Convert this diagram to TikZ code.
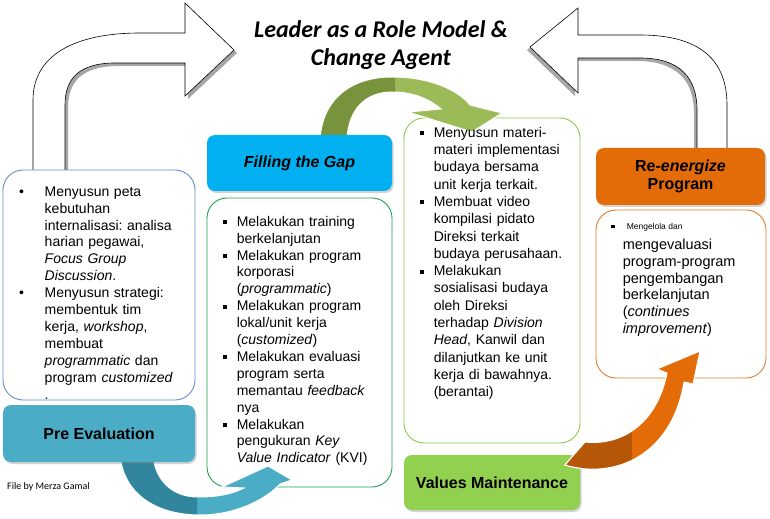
\documentclass[tikz,border=0pt]{standalone}
\usepackage{fontspec}
\setmainfont{Liberation Sans}
\newfontfamily\calfont{Carlito}
\usetikzlibrary{calc,shadows}
\frenchspacing
\definecolor{preblue}{RGB}{75,172,198}
\definecolor{preline}{RGB}{100,140,200}
\definecolor{gapcyan}{RGB}{0,176,240}
\definecolor{gapline}{RGB}{30,160,80}
\definecolor{valgreen}{RGB}{146,208,80}
\definecolor{valline}{RGB}{140,200,80}
\definecolor{renorange}{RGB}{227,108,9}
\definecolor{renline}{RGB}{225,125,45}
\definecolor{dkgreen}{RGB}{119,147,60}
\definecolor{ltgreen}{RGB}{155,187,89}
\definecolor{dkblue}{RGB}{49,133,156}
\definecolor{dkorange}{RGB}{182,87,8}
\tikzset{
  txtbox/.style   = {draw, fill=white, rounded corners=20bp, line width=0.9bp,
                     inner sep=0pt},
  labbox/.style   = {rounded corners=8bp, inner sep=0pt,
                     font=\fontsize{16bp}{18bp}\selectfont\bfseries,
                     drop shadow={opacity=0.35, shadow xshift=1.5bp, shadow yshift=-2bp}},
  bodytxt/.style  = {anchor=north west, inner sep=0pt, text width=175bp, align=left,
                     font=\fontsize{14bp}{16.9bp}\selectfont},
  titletxt/.style = {anchor=north, inner sep=0pt, align=center,
                     font=\calfont\fontsize{24bp}{28bp}\selectfont\bfseries\itshape},
  bigarrow/.style = {fill=white, draw=black, line width=0.6bp},
  arrshade/.style = {fill=black!35},
  flowarr/.style  = {draw=white, line width=1bp},
}
\newcommand{\dotitem}{\leavevmode\llap{\makebox[25.5bp][l]{\textbullet}}}
\newcommand{\sqitem}{\leavevmode\llap{\makebox[14bp][l]{\rule[2bp]{4bp}{4bp}}}}
\def\lftarrow{(33,172) -- (33,100) .. controls (33,55) and (75,33) .. (140,33)
  -- (185,33) -- (185,3) -- (234,50) -- (185,96) -- (185,63) -- (115,63)
  .. controls (80,63) and (65,78) .. (65,105) -- (65,172) -- cycle}
\def\rgtarrow{(530,47) -- (578,8) -- (578,35) -- (640,35)
  .. controls (700,35) and (727,60) .. (727,105) -- (727,150) -- (697,150)
  -- (697,110) .. controls (697,78) and (680,58) .. (640,58) -- (578,58)
  -- (578,93) -- cycle}
\def\grnarrow{(320,140) .. controls (322,100) and (350,77) .. (392,77)
  .. controls (430,77) and (458,90) .. (470,105) -- (502,113) -- (472,132)
  -- (408,112) -- (441,109) .. controls (428,98) and (412,92) .. (392,92)
  .. controls (365,92) and (348,110) .. (347,140) -- cycle}
\def\bluarrow{(120,455) .. controls (124,497) and (160,515) .. (200,515)
  .. controls (235,515) and (265,500) .. (280,484) -- (292,480) -- (268,466)
  -- (222,487) -- (244,488) .. controls (230,495) and (215,497) .. (198,497)
  .. controls (172,497) and (155,480) .. (153,455) -- cycle}
\def\orgarrow{(565,465) .. controls (615,480) and (672,455) .. (684,382)
  -- (693,384) -- (700,351) -- (657,369) -- (667,373)
  .. controls (657,425) and (620,446) .. (585,442) -- cycle}

\begin{document}
\begin{tikzpicture}[x=1bp, y=-1bp]
  \useasboundingbox[fill=white] (0,0) rectangle (770,519);

  % big white arrows to the title
  \fill[arrshade, shift={(3,3)}] \lftarrow;
  \draw[bigarrow] \lftarrow;
  \fill[arrshade, shift={(-3,3)}] \rgtarrow;
  \draw[bigarrow] \rgtarrow;

  \node[titletxt] (title) at (381,17.4) {\strut Leader as a Role Model \&\\ Change Agent};

  % content boxes
  \node[txtbox, draw=preline, minimum width=192bp, minimum height=230bp] (leftbox) at (99,285) {};
  \node[txtbox, draw=gapline, minimum width=185bp, minimum height=289bp] (gapbox) at (299.5,342.5) {};
  \node[txtbox, draw=valline, minimum width=176bp, minimum height=325bp] (midbox) at (492,280.5) {};
  \node[txtbox, draw=renline, minimum width=170bp, minimum height=168bp] (renbox) at (681,294) {};

  \node[labbox, fill=valgreen, minimum width=176bp, minimum height=55bp] (vallab) at (492,482.5) {Values Maintenance};

  \fill[flowarr, fill=ltgreen] \grnarrow;
  \begin{scope}
    \clip (300,60) rectangle (395,150);
    \fill[flowarr, fill=dkgreen] \grnarrow;
  \end{scope}

  \node[labbox, fill=gapcyan, minimum width=185bp, minimum height=56bp, font=\fontsize{16bp}{18bp}\selectfont\bfseries\itshape] (gaplab) at (299.5,163) {Filling the Gap};

  \fill[flowarr, fill=preblue] \bluarrow;
  \begin{scope}
    \clip (100,440) rectangle (197,519);
    \fill[flowarr, fill=dkblue] \bluarrow;
  \end{scope}

  \node[labbox, fill=preblue, minimum width=192bp, minimum height=57bp] (prelab) at (99,433.5) {Pre Evaluation};

  \fill[flowarr, fill=renorange] \orgarrow;
  \begin{scope}
    \clip (550,420) rectangle (632,490);
    \fill[flowarr, fill=dkorange] \orgarrow;
  \end{scope}

  \node[labbox, fill=renorange, minimum width=169bp, minimum height=57bp, align=center] (renlab) at (680.5,176.5) {\raisebox{-2bp}{Re-\textit{energize}}\\ \raisebox{-2bp}{Program}};

  % texts
  \node[bodytxt] (lefttxt) at ($(leftbox.north west)+(42,14.7)$) {\strut
    \dotitem Menyusun peta\\
    kebutuhan\\
    internalisasi: analisa\\
    harian pegawai,\\
    \textit{Focus Group}\\
    \textit{Discussion}.\\
    \dotitem Menyusun strategi:\\
    membentuk tim\\
    kerja, \textit{workshop},\\
    membuat\\
    \textit{programmatic} dan\\
    program \textit{customized}\\
    .};
  \node[bodytxt] (gaptxt) at ($(gapbox.north west)+(30,16.7)$) {\strut
    \sqitem Melakukan training\\
    berkelanjutan\\
    \sqitem Melakukan program\\
    korporasi\\
    (\textit{programmatic})\\
    \sqitem Melakukan program\\
    lokal/unit kerja\\
    (\textit{customized})\\
    \sqitem Melakukan evaluasi\\
    program serta\\
    memantau \textit{feedback}\\
    nya\\
    \sqitem Melakukan\\
    pengukuran \textit{Key}\\
    \textit{Value Indicator} (KVI)};
  \node[bodytxt, font=\fontsize{14bp}{17.3bp}\selectfont] (midtxt) at ($(midbox.north west)+(30,7.4)$) {\strut
    \sqitem Menyusun materi-\\
    materi implementasi\\
    budaya bersama\\
    unit kerja terkait.\\
    \sqitem Membuat video\\
    kompilasi pidato\\
    Direksi terkait\\
    budaya perusahaan.\\
    \sqitem Melakukan\\
    sosialisasi budaya\\
    oleh Direksi\\
    terhadap \textit{Division}\\
    \textit{Head}, Kanwil dan\\
    dilanjutkan ke unit\\
    kerja di bawahnya.\\
    (berantai)};
  \node[anchor=base west, inner sep=0pt, font=\fontsize{8.5bp}{10bp}\selectfont] (rensmall)
    at ($(renbox.north west)+(31,20)$) {\llap{\makebox[15.5bp][l]{\rule[1.5bp]{3.5bp}{3.5bp}}}Mengelola dan};
  \node[bodytxt, font=\fontsize{14.5bp}{16.9bp}\selectfont] (rentxt) at ($(renbox.north west)+(27,27.7)$) {\strut
    mengevaluasi\\
    program-program\\
    pengembangan\\
    berkelanjutan\\
    (\textit{continues}\\
    \textit{improvement})};

  \node[anchor=base west, inner sep=0pt, font=\calfont\fontsize{10bp}{12bp}\selectfont] (credit) at (7,489) {File by Merza Gamal};
\end{tikzpicture}
\end{document}
